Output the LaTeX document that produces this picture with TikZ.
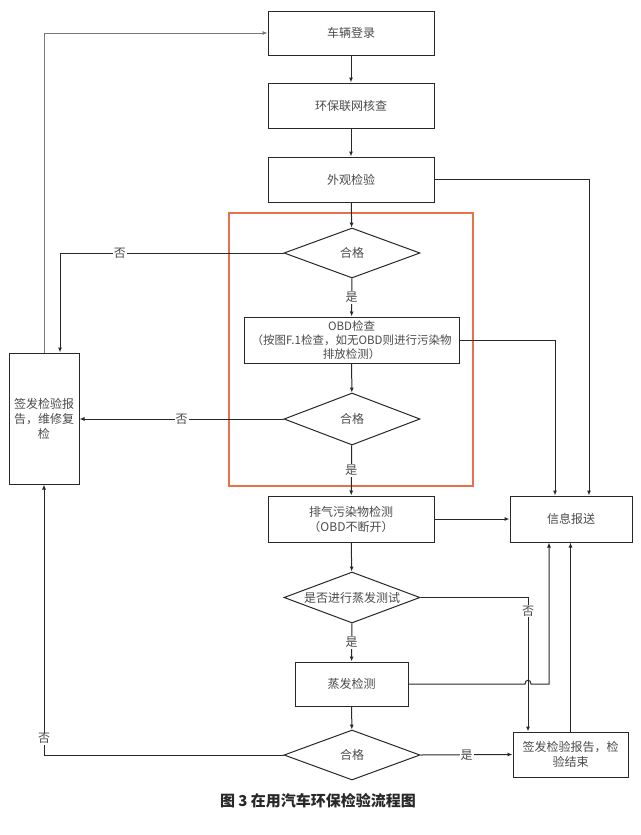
\documentclass[tikz,border=0pt]{standalone}
\usepackage{fontspec}
\setmainfont{Noto Sans CJK SC}
\usetikzlibrary{shapes.geometric,arrows.meta}
\definecolor{linec}{RGB}{40,40,40}
\definecolor{textc}{RGB}{75,75,75}
\definecolor{orangec}{RGB}{233,112,76}
\definecolor{loopc}{RGB}{120,120,120}
\begin{document}
\begin{tikzpicture}[x=1pt,y=-1pt,
  box/.style={draw=linec,line width=1pt,rectangle,inner sep=1pt,align=center,
    font=\fontsize{12}{15}\selectfont,text=textc},
  dia/.style={draw=linec,line width=1pt,diamond,aspect=2.7,inner sep=0pt,
    minimum width=136pt,minimum height=50pt,font=\fontsize{12}{15}\selectfont,text=textc},
  arr/.style={draw=linec,line width=1pt,-{Latex[length=5pt,width=4pt]}},
  lbl/.style={fill=white,inner sep=1pt,font=\fontsize{12}{14}\selectfont,text=textc}
]
\useasboundingbox[fill=white] (0,0) rectangle (640,835);

% highlight frame
\draw[orangec,line width=2.8pt] (229,213) rectangle (473,486);

% nodes
\node[box,minimum width=166pt,minimum height=44pt] (b1) at (351,33) {车辆登录};
\node[box,minimum width=166pt,minimum height=45pt] (b2) at (351,105.5) {环保联网核查};
\node[box,minimum width=166pt,minimum height=45pt] (b3) at (351,179.5) {外观检验};
\node[dia] (d1) at (352,253) {合格};
\node[box,minimum width=215pt,minimum height=46pt,font=\fontsize{11.5}{14}\selectfont] (obd) at (351.5,340)
  {OBD检查\\（按图F.1检查，如无OBD则进行污染物\\排放检测）};
\node[dia,minimum height=52pt] (d2) at (352,419) {合格};
\node[box,minimum width=70pt,minimum height=131pt] (L) at (44,418.5) {签发检验报\\告，维修复\\检};
\node[box,minimum width=166pt,minimum height=46pt] (b4) at (351,519) {排气污染物检测\\（OBD不断开）};
\node[box,minimum width=122pt,minimum height=46pt] (info) at (571,519) {信息报送};
\node[dia,minimum height=51pt] (d3) at (352,597.5) {是否进行蒸发测试};
\node[box,minimum width=113pt,minimum height=44pt] (b5) at (351.5,684) {蒸发检测};
\node[dia] (d4) at (352,755) {合格};
\node[box,minimum width=115pt,minimum height=45pt] (end) at (570.5,754.5) {签发检验报告，检\\验结束};
\node[font=\bfseries\fontsize{15}{18}\selectfont,text=linec] (cap) at (318,801) {图 3 在用汽车环保检验流程图};

% helper coordinates for the line hop
\coordinate (hopA) at (525,684);
\coordinate (hopB) at (531,684);
\coordinate (hopT1) at (525,679);
\coordinate (hopT2) at (531,679);

% main column
\draw[arr] (b1) -- (b2);
\draw[arr] (b2) -- (b3);
\draw[arr] (b3) -- (d1);
\draw[arr] (d1) -- node[lbl,pos=0.5] {是} (obd);
\draw[arr] (obd) -- (d2);
\draw[arr] (d2) -- node[lbl,pos=0.5] {是} (b4);
\draw[arr] (b4) -- (d3);
\draw[arr] (d3) -- node[lbl,pos=0.5] {是} (b5);
\draw[arr] (b5) -- (d4);

% to info
\draw[arr] (b3.east) -| ([xshift=18pt]info.north);
\draw[arr] (obd.east) -| ([xshift=-16pt]info.north);
\draw[arr] (b4.east) -- (info.west);
\draw[arr] (b5.east) -- (hopA) .. controls (hopT1) and (hopT2) .. (hopB) -| ([xshift=-22pt]info.south);
\draw[arr] (end.north) -- (end.north |- info.south);

% failures to left box
\draw[arr] (d1.west) -| node[lbl,pos=0.366] {否} ([xshift=16pt]L.north);
\draw[arr] (d2.west) -- node[lbl,pos=0.5] {否} (d2.west -| L.east);
\draw[arr] (d4.west) -| node[lbl,pos=0.53] {否} (L.south);
\draw[draw=loopc,line width=0.7pt,-{Latex[length=5pt,width=4pt]}] (L.north) |- (b1.west);

% evaporation skip and final pass
\draw[arr] (d3.east) -| node[lbl,pos=0.55] {否} ([xshift=-42.5pt]end.north);
\draw[arr] (d4.east) -- node[lbl,pos=0.5] {是} (end.west);
\end{tikzpicture}
\end{document}
